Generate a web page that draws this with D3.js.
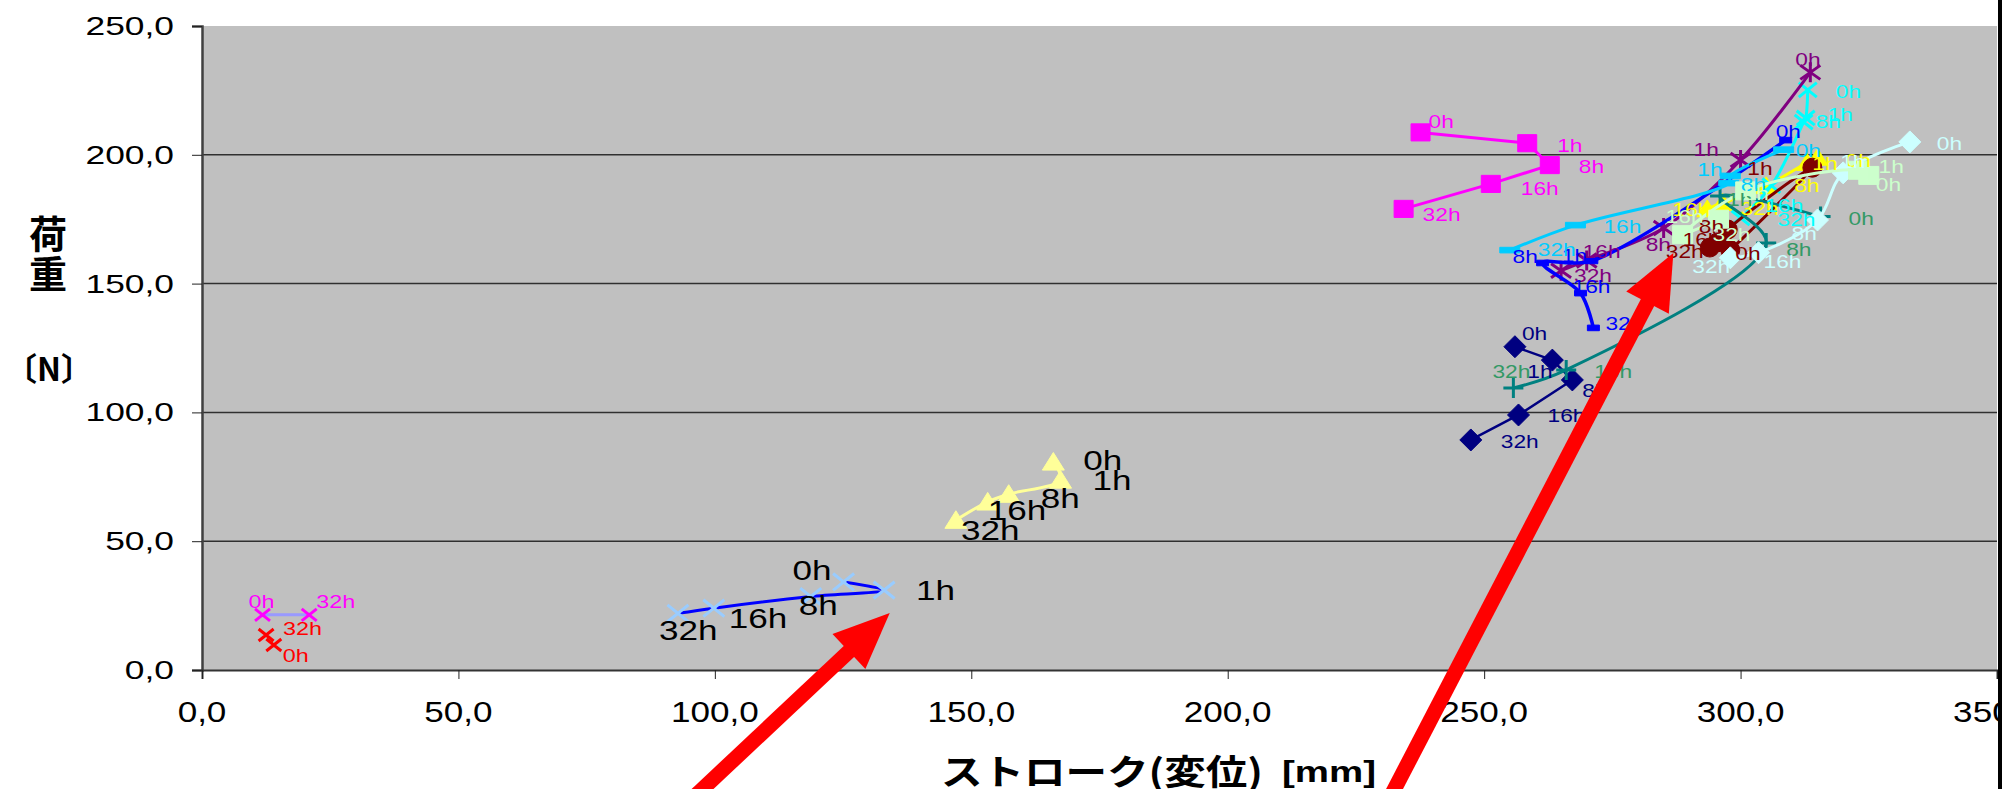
<!DOCTYPE html>
<html>
<head>
<meta charset="utf-8">
<script src="https://cdn.jsdelivr.net/npm/d3@7"></script>
<style>
  html, body { margin: 0; padding: 0; background: #fff; overflow: hidden; }
</style>
</head>
<body>
<div id="chart"></div>
<script>
// labels of the measuring times
const hours = ["0h", "1h", "8h", "16h", "32h"];
const hoursShort = ["0h", "32h"];
const xTicks = [0, 50, 100, 150, 200, 250, 300, 350];
const yTicks = [0, 50, 100, 150, 200, 250];

// stroke [mm] / load [N] per sample
const navyStroke = [256, 263.3, 267.2, 256.7, 247.4];
const navyLoad = [125.5, 120.3, 112.6, 99, 89.3];
const pinkSqStroke = [237.6, 258.4, 262.8, 251.3, 234.3];
const pinkSqLoad = [208.7, 204.5, 196, 188.7, 179];
const yellowStroke = [315, 313, 305, 293.5, 296.5];
const yellowLoad = [199, 197, 188, 179, 181.5];
const cyanStroke = [313.1, 312.7, 312.3, 306, 300];
const cyanLoad = [225.2, 214.3, 212.7, 188, 175.5];
const purpleStroke = [313.6, 300, 285, 270, 265];
const purpleLoad = [232, 198, 171.6, 159, 155];
const maroonStroke = [298, 314, 297.5, 295.5, 294];
const maroonLoad = [163, 195, 171, 166, 164];
const tealStroke = [315.6, 296, 305, 266, 255.7];
const tealLoad = [176, 184, 165.8, 116.5, 109.5];
const blueStroke = [308.8, 271, 261.4, 268.8, 271.3];
const blueLoad = [205.7, 158.8, 158, 146.3, 132.8];
const skyStroke = [308.4, 298, 297.7, 267.8, 255];
const skyLoad = [202, 191.8, 189, 172.7, 163];
const paleCyanStroke = [333, 320, 315, 303.5, 298];
const paleCyanLoad = [205, 193, 174.7, 162, 160];
const paleGreenStroke = [325, 323, 301, 288.7, 295.7];
const paleGreenLoad = [192, 194, 186, 169, 175];
const paleYellowStroke = [166, 167.4, 157.3, 153.2, 147];
const paleYellowLoad = [80.8, 73.8, 68.3, 65.3, 58.2];
const paleBlueStroke = [125.1, 133, 118.7, 99.8, 92.8];
const paleBlueLoad = [34.2, 31, 28.5, 24, 22];
const pinkXStroke = [11.8, 20.9];
const pinkXLoad = [21.4, 21.4];
const redXStroke = [14, 12.5];
const redXLoad = [9.7, 13.6];

// red arrows (data coords: tail -> tip)
const arrowTail = [[95.3, -50.5], [231.4, -50.5]];
const arrowTip = [[134.1, 22.1], [286.9, 161.9]];

// look of each series
const styles = [
  {x: navyStroke, y: navyLoad, t: hours, color: "#000080", marker: "diamond", ms: 22, lw: 2.5, fs: 17.5, smooth: false},
  {x: pinkSqStroke, y: pinkSqLoad, t: hours, color: "#ff00ff", marker: "square", ms: 19, lw: 3, fs: 17.5, smooth: false},
  {x: yellowStroke, y: yellowLoad, t: hours, color: "#ffff00", marker: "triangle", ms: 21, lw: 3, fs: 17.5},
  {x: cyanStroke, y: cyanLoad, t: hours, color: "#00ffff", marker: "x", ms: 18, lw: 3, fs: 17.5},
  {x: purpleStroke, y: purpleLoad, t: hours, color: "#800080", marker: "star", ms: 20, lw: 3, fs: 17.5},
  {x: maroonStroke, y: maroonLoad, t: hours, color: "#800000", marker: "circle", ms: 19, lw: 3, fs: 17.5},
  {x: tealStroke, y: tealLoad, t: hours, color: "#008080", label: "#339966", marker: "plus", ms: 20, lw: 3, fs: 17.5},
  {x: blueStroke, y: blueLoad, t: hours, color: "#0000ff", marker: "dash", ms: 12, lw: 3.5, fs: 17.5},
  {x: skyStroke, y: skyLoad, t: hours, color: "#00ccff", marker: "dash", ms: 20, lw: 3, fs: 17.5},
  {x: paleCyanStroke, y: paleCyanLoad, t: hours, color: "#ccffff", marker: "diamond", ms: 22, lw: 3, fs: 17.5},
  {x: paleGreenStroke, y: paleGreenLoad, t: hours, color: "#ccffcc", marker: "square", ms: 20, lw: 3, fs: 17.5},
  {x: paleYellowStroke, y: paleYellowLoad, t: hours, color: "#ffff99", label: "#000", marker: "triangle", ms: 22, lw: 3, fs: 27},
  {x: paleBlueStroke, y: paleBlueLoad, t: hours, color: "#99ccff", line: "#0000ff", label: "#000", marker: "x", ms: 21, lw: 3, fs: 27},
  {x: pinkXStroke, y: pinkXLoad, t: hoursShort, color: "#ff00ff", line: "#9999ff", marker: "x", ms: 15, lw: 3, fs: 18},
  {x: redXStroke, y: redXLoad, t: hoursShort, color: "#ff0000", line: "#ff9900", marker: "x", ms: 15, lw: 2, fs: 18}
];

// label offsets in px (start of text, baseline) for each point
const labelShift = [
  [[7, -7], [-25, 18], [10, 17], [29, 7], [30, 8]],
  [[8, -4], [30, 9], [29, 8], [30, 11], [19, 12]],
  [[28, 10], [5, 7], [28, 6], [-35, 7], [18, 13]],
  [[28, 8], [22, 3], [12, 6], [-6, 26], [37, 8]],
  [[-15, -6], [-47, -4], [-18, 23], [-4, -2], [13, 11]],
  [[5, 10], [-65, 7], [-29, 3], [-35, 4], [-44, 10]],
  [[28, 8], [7, 10], [20, 13], [28, 8], [-21, -10]],
  [[-10, -2], [-30, 1], [-30, 0], [-8, 0], [12, 2]],
  [[12, 7], [-33, 0], [12, 8], [28, 8], [28, 6]],
  [[27, 8], [-3, -5], [-26, 20], [5, 15], [-38, 15]],
  [[7, 16], [20, 3], [-2, 9], [-17, -12], [-6, 22]],
  [[30, 8], [32, 10], [32, 14], [0, 18], [5, 20]],
  [[-51, -2], [32, 10], [-12, 18], [15, 20], [-19, 27]],
  [[-14, -7], [7, -7]],
  [[9, 17], [17, 0]]
];

const width = 2002;
const height = 789;
const marginLeft = 202;
const marginRight = 5;
const marginTop = 26;
const marginBottom = 119;

const x = d3.scaleLinear().domain([0, 350]).range([marginLeft, width - marginRight]);
const y = d3.scaleLinear().domain([0, 250]).range([height - marginBottom, marginTop]);

const svg = d3.select("#chart").append("svg")
  .attr("width", width)
  .attr("height", height)
  .attr("viewBox", [0, 0, width, height])
  .style("font-family", "'Liberation Sans', Arial, sans-serif");

// Excel style texts look a bit stretched sideways
function wideText(g, px, py, str, sx, anchor) {
  return g.append("text")
    .attr("transform", `translate(${px},${py}) scale(${sx},1)`)
    .attr("text-anchor", anchor || "start")
    .text(str);
}

const fmt = v => d3.format(".1f")(v).replace(".", ",");

// plot area
svg.append("rect")
  .attr("x", x(0)).attr("y", y(250))
  .attr("width", x(350) - x(0)).attr("height", y(0) - y(250))
  .attr("fill", "#c0c0c0");

// grid
svg.append("g")
  .selectAll("line")
  .data(yTicks.filter(d => d > 0 && d < 250))
  .join("line")
  .attr("x1", x(0)).attr("x2", x(350))
  .attr("y1", d => y(d)).attr("y2", d => y(d))
  .attr("stroke", "#303030")
  .attr("stroke-width", 1.5);

// y axis
const yAxis = svg.append("g")
  .attr("transform", `translate(${x(0)},0)`)
  .call(d3.axisLeft(y).tickValues(yTicks).tickSize(10).tickFormat(""))
  .call(g => g.select(".domain").attr("stroke", "#404040").attr("stroke-width", 2.5));
yAxis.selectAll(".tick line").attr("stroke", "#222");
const yLab = svg.append("g").attr("font-size", 26).attr("fill", "#000");
yTicks.forEach(v => wideText(yLab, 174, y(v) + 9, fmt(v), 1.36, "end"));

// x axis
const xAxis = svg.append("g")
  .attr("transform", `translate(0,${y(0)})`)
  .call(d3.axisBottom(x).tickValues(xTicks).tickSize(9).tickFormat(""))
  .call(g => g.select(".domain").attr("stroke", "#333").attr("stroke-width", 2));
xAxis.selectAll(".tick line").attr("stroke", "#222");
const xLab = svg.append("g").attr("font-size", 29).attr("fill", "#000");
xTicks.forEach(v => wideText(xLab, x(v), 722, fmt(v), 1.21, "middle"));

// axis titles
svg.append("text")
  .attr("x", 941).attr("y", 785)
  .attr("font-family", "'Noto Sans CJK JP', sans-serif")
  .attr("font-weight", "bold")
  .attr("font-size", 35)
  .attr("textLength", 322)
  .attr("lengthAdjust", "spacingAndGlyphs")
  .text("ストローク(変位)");
svg.append("text")
  .attr("x", 1282).attr("y", 782)
  .attr("font-weight", "bold")
  .attr("font-size", 29)
  .attr("textLength", 94)
  .attr("lengthAdjust", "spacingAndGlyphs")
  .text("[mm]");
const yTitle = svg.append("g")
  .attr("font-family", "'Noto Sans CJK JP', sans-serif")
  .attr("font-weight", "bold")
  .attr("text-anchor", "middle");
yTitle.append("text").attr("x", 48).attr("y", 248).attr("font-size", 38).text("荷");
yTitle.append("text").attr("x", 48).attr("y", 288).attr("font-size", 38).text("重");
yTitle.append("text").attr("x", 49).attr("y", 381).attr("font-size", 32).text("〔N〕");

// marker shapes
function markerPath(type, s) {
  const h = s / 2;
  switch (type) {
    case "diamond": return `M0,${-h}L${h},0L0,${h}L${-h},0Z`;
    case "square": return `M${-h},${-h * 0.9}H${h}V${h * 0.9}H${-h}Z`;
    case "triangle": return `M0,${-h * 0.85}L${h},${h * 0.75}L${-h},${h * 0.75}Z`;
    case "circle": return d3.symbol(d3.symbolCircle, Math.PI * h * h)();
    case "dash": return `M${-h},-2.8H${h}V2.8H${-h}Z`;
    case "x": return `M${-h},${-h * 0.8}L${h},${h * 0.8}M${-h},${h * 0.8}L${h},${-h * 0.8}`;
    case "star": return `M${-h},${-h * 0.7}L${h},${h * 0.7}M${-h},${h * 0.7}L${h},${-h * 0.7}M0,${-h}V${h}`;
    case "plus": return `M${-h},0H${h}M0,${-h}V${h}`;
  }
}
const openMarkers = ["x", "star", "plus"];

const smoothLine = d3.line()
  .x(d => x(d[0]))
  .y(d => y(d[1]))
  .curve(d3.curveCatmullRom.alpha(0.5));
const straightLine = d3.line()
  .x(d => x(d[0]))
  .y(d => y(d[1]));

const plot = svg.append("g");
styles.forEach(s => {
  const pts = s.x.map((v, i) => [v, s.y[i]]);
  plot.append("path")
    .attr("d", s.smooth === false ? straightLine(pts) : smoothLine(pts))
    .attr("fill", "none")
    .attr("stroke", s.line || s.color)
    .attr("stroke-width", s.lw)
    .attr("stroke-linejoin", "round");
  const open = openMarkers.includes(s.marker);
  plot.append("g")
    .selectAll("path")
    .data(pts)
    .join("path")
    .attr("transform", d => `translate(${x(d[0])},${y(d[1])})`)
    .attr("d", markerPath(s.marker, s.ms))
    .attr("fill", open ? "none" : s.color)
    .attr("stroke", s.color)
    .attr("stroke-width", open ? 3 : 1);
});

// data labels on top
const labels = svg.append("g");
styles.forEach((s, k) => {
  const g = labels.append("g")
    .attr("fill", s.label || s.color)
    .attr("font-size", s.fs);
  s.x.forEach((v, i) => {
    const off = labelShift[k][i];
    wideText(g, x(v) + off[0], y(s.y[i]) + off[1], s.t[i], 1.3);
  });
});

// red arrows
const arrows = svg.append("g").attr("fill", "#ff0000").attr("stroke", "#ff0000");
arrowTail.forEach((a, i) => {
  const p0 = [x(a[0]), y(a[1])];
  const p1 = [x(arrowTip[i][0]), y(arrowTip[i][1])];
  const len = Math.hypot(p1[0] - p0[0], p1[1] - p0[1]);
  const u = [(p1[0] - p0[0]) / len, (p1[1] - p0[1]) / len];
  const n = [-u[1], u[0]];
  const headLen = 56, headHalf = 24;
  const b = [p1[0] - u[0] * headLen, p1[1] - u[1] * headLen];
  arrows.append("line")
    .attr("x1", p0[0]).attr("y1", p0[1])
    .attr("x2", b[0] + u[0] * 4).attr("y2", b[1] + u[1] * 4)
    .attr("stroke-width", 15);
  arrows.append("path")
    .attr("stroke", "none")
    .attr("d", `M${p1[0]},${p1[1]}L${b[0] + n[0] * headHalf},${b[1] + n[1] * headHalf}L${b[0] - n[0] * headHalf},${b[1] - n[1] * headHalf}Z`);
});

// right edge bar
svg.append("rect")
  .attr("x", 1998).attr("y", 0)
  .attr("width", 4).attr("height", height)
  .attr("fill", "#000");
</script>
</body>
</html>
